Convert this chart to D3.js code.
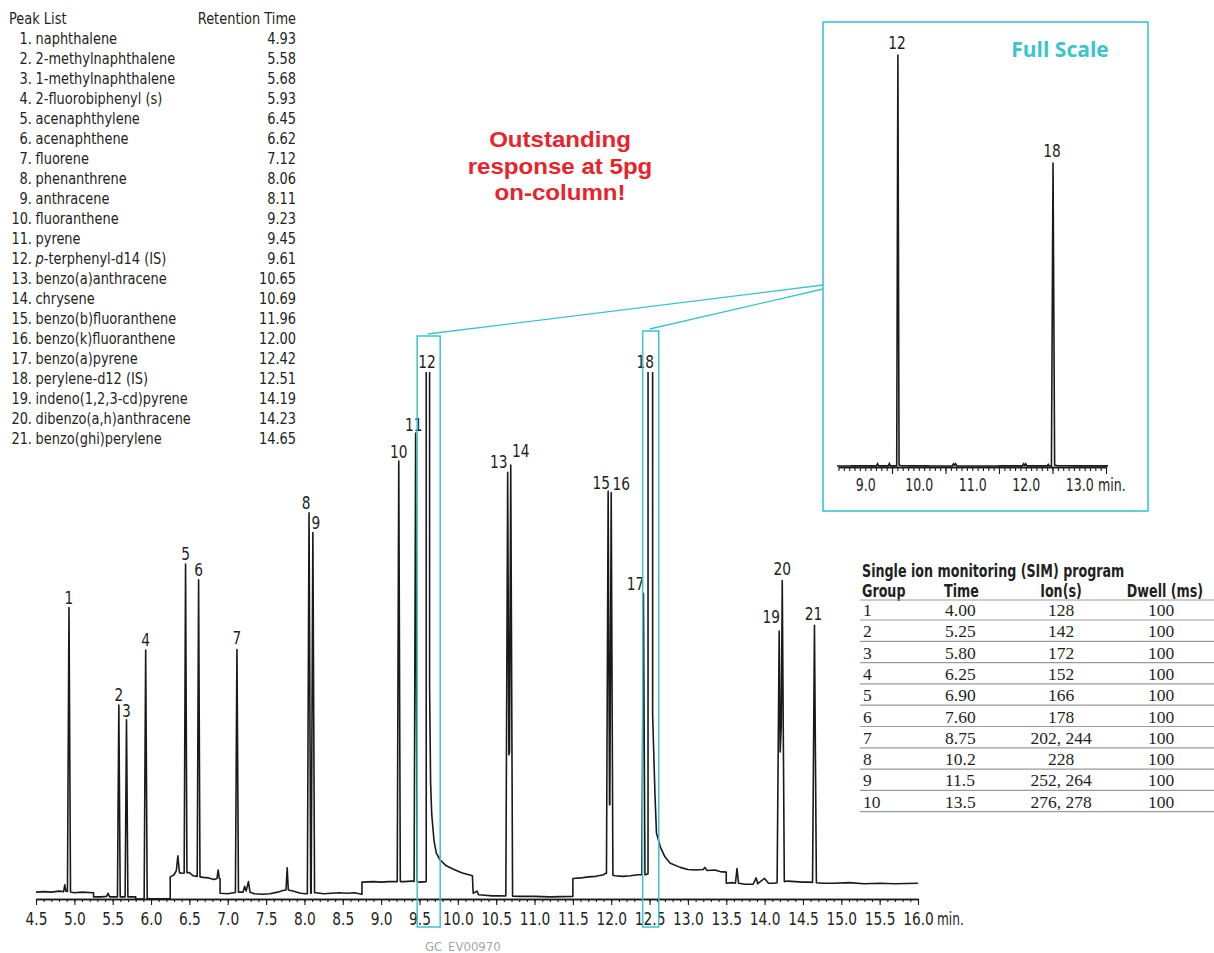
<!DOCTYPE html>
<html>
<head>
<meta charset="utf-8">
<script src="https://cdn.jsdelivr.net/npm/d3@7"></script>
<style>
  body { margin: 0; background: #fff; }
  text { font-family: 'Liberation Sans Narrow', 'Arial Narrow', 'DejaVu Sans Condensed', sans-serif; fill: #231f20; }
</style>
</head>
<body>
<div id="chart"></div>
<script>
// peak list (name / retention time in min)
const compounds = [
  "naphthalene", "2-methylnaphthalene", "1-methylnaphthalene", "2-fluorobiphenyl (s)",
  "acenaphthylene", "acenaphthene", "fluorene", "phenanthrene", "anthracene",
  "fluoranthene", "pyrene", "p-terphenyl-d14 (IS)", "benzo(a)anthracene", "chrysene",
  "benzo(b)fluoranthene", "benzo(k)fluoranthene", "benzo(a)pyrene", "perylene-d12 (IS)",
  "indeno(1,2,3-cd)pyrene", "dibenzo(a,h)anthracene", "benzo(ghi)perylene"
];
const retentionTimes = [4.93, 5.58, 5.68, 5.93, 6.45, 6.62, 7.12, 8.06, 8.11, 9.23, 9.45,
  9.61, 10.65, 10.69, 11.96, 12.00, 12.42, 12.51, 14.19, 14.23, 14.65];

// peak heights above baseline (abundance units, 100 = top of the zoomed view) and half widths (min)
const peakHeights = [53.9, 36.4, 33.6, 47.2, 58.6, 56.3, 46.1, 72.2, 68.4, 79.8, 85.1,
  15000, 80.4, 81.8, 72.6, 72.5, 53.4, 11060, 47.7, 57.2, 48.8];
const peakHalfWidths = [0.02, 0.018, 0.018, 0.02, 0.018, 0.018, 0.02, 0.022, 0.022, 0.02, 0.02,
  0.022, 0.024, 0.024, 0.022, 0.022, 0.02, 0.03, 0.027, 0.027, 0.025];

// baseline of the SIM trace [time, abundance], steps at group switches, tails of 12 and 18
const baseline = [
  [4.50, 1.3], [4.60, 1.4], [4.70, 1.3], [4.80, 1.5], [4.86, 1.4], [4.875, 2.7], [4.89, 1.5], [5.00, 1.2], [5.10, 1.3], [5.25, 1.2],
  [5.25, 0.4], [5.35, 0.4], [5.42, 0.5], [5.44, 1.1], [5.46, 0.4], [5.55, 0.4], [5.70, 0.4], [5.80, 0.4],
  [5.80, 0.0], [6.00, 0.05], [6.25, 0.05],
  [6.25, 4.2], [6.30, 4.6], [6.33, 5.4], [6.35, 8.2], [6.37, 5.0], [6.40, 4.9], [6.50, 5.0], [6.55, 4.4], [6.60, 4.3],
  [6.68, 4.1], [6.75, 4.0], [6.82, 3.7], [6.86, 3.9], [6.875, 5.5], [6.89, 3.9], [6.90, 3.8],
  [6.90, 1.1], [7.00, 1.0], [7.08, 1.2], [7.16, 1.3], [7.20, 1.3], [7.22, 2.4], [7.24, 1.5], [7.27, 3.3], [7.29, 1.3],
  [7.35, 1.0], [7.45, 0.9], [7.55, 1.0], [7.65, 1.3], [7.72, 1.6], [7.76, 1.7], [7.775, 5.9], [7.79, 1.7], [7.85, 1.5],
  [7.95, 1.1], [8.02, 1.0], [8.15, 1.2], [8.25, 1.0], [8.35, 1.1], [8.45, 1.2], [8.55, 1.1], [8.65, 1.2], [8.75, 0.9],
  [8.75, 3.2], [8.90, 3.3], [9.00, 3.2], [9.10, 3.3], [9.20, 3.3], [9.30, 3.3], [9.40, 3.4], [9.50, 3.2], [9.59, 3.3],
  [9.632, 40], [9.645, 22], [9.66, 16], [9.69, 11], [9.72, 8.7], [9.77, 7.4], [9.85, 6.3], [9.95, 5.6], [10.05, 5.0], [10.19, 4.4],
  [10.20, 1.1], [10.25, 1.5], [10.27, 0.8], [10.35, 0.7], [10.45, 0.6], [10.55, 0.6], [10.80, 0.5], [11.00, 0.5], [11.20, 0.4], [11.50, 0.5],
  [11.50, 3.9], [11.60, 4.0], [11.70, 4.2], [11.80, 4.3], [11.90, 4.6], [11.93, 4.9], [12.05, 4.4], [12.15, 4.3], [12.25, 4.4],
  [12.35, 4.6], [12.45, 4.6], [12.482, 4.8],
  [12.54, 35], [12.57, 20], [12.59, 12.5], [12.64, 9.9], [12.70, 8.0], [12.77, 6.8], [12.90, 6.0], [13.00, 5.6], [13.10, 5.5],
  [13.20, 5.6], [13.22, 6.0], [13.25, 5.4], [13.35, 5.5], [13.42, 5.2], [13.50, 5.1],
  [13.50, 3.0], [13.58, 3.1], [13.62, 3.0], [13.64, 5.8], [13.66, 3.0], [13.75, 2.8], [13.85, 2.8], [13.89, 4.0], [13.91, 2.9],
  [13.96, 3.5], [14.00, 3.9], [14.05, 3.0], [14.12, 3.0],
  [14.30, 3.4], [14.40, 3.3], [14.50, 3.2], [14.58, 3.2], [14.75, 3.0], [14.90, 3.0], [15.10, 3.1], [15.30, 2.9], [15.50, 3.0],
  [15.70, 2.9], [16.00, 3.0]
];

// SIM program table
const simGroup = ["1", "2", "3", "4", "5", "6", "7", "8", "9", "10"];
const simTime = ["4.00", "5.25", "5.80", "6.25", "6.90", "7.60", "8.75", "10.2", "11.5", "13.5"];
const simIons = ["128", "142", "172", "152", "166", "178", "202, 244", "228", "252, 264", "276, 278"];
const simDwell = ["100", "100", "100", "100", "100", "100", "100", "100", "100", "100"];

// axis ticks
const mainTicks = d3.range(45, 161, 5).map(d => d / 10);
const mainMinorTicks = d3.range(45, 161).map(d => d / 10);
const insetLabels = [9, 10, 11, 12, 13];
const insetMajorTicks = [9.5, 10.5, 11.5, 12.5, 13.5];
const insetMinorTicks = d3.range(85, 136).map(d => d / 10);

// zoomed windows around peaks 12 and 18
const zoomWindows = [[9.47, 9.77], [12.41, 12.62]];

// label nudges (dx, gap above apex)
const labelDx = [0, 0, 0, 0, 0, 0, 0, -3, 3, 0, -2, -1, -9, 10, -7, 10, -8, -5, -8, 0, -1];
const labelGap = [4, 4, 3, 4, 4, 4, 5, 4, 4, 3, 2, 4, 4, 8, 2, 3, 3, 4, 8, 5, 5];

const width = 1214, height = 953;
const cyan = "#3cc4cc";
const narrow = 0.85; // horizontal squeeze to mimic the condensed face

let svg = d3.select("#chart").append("svg")
  .attr("width", width)
  .attr("height", height);

// scales
let x = d3.scaleLinear().domain([4.5, 16.0]).range([36, 918]);
let y = d3.scaleLinear().domain([0, 100]).range([899, 372]);
let xi = d3.scaleLinear().domain([8.5, 13.5]).range([838.5, 1106]);
let yi = d3.scaleLinear().domain([0, 15000]).range([466, 55]);

// build trace: baseline plus triangular peaks, sampled at every vertex
const baseAt = t => {
  const i = d3.bisector(d => d[0]).right(baseline, t);
  if (i <= 0) return baseline[0][1];
  if (i >= baseline.length) return baseline[baseline.length - 1][1];
  const a = baseline[i - 1], b = baseline[i];
  return a[1] + (b[1] - a[1]) * (t - a[0]) / (b[0] - a[0]);
};
const peakAt = t => d3.sum(retentionTimes, (rt, i) =>
  Math.max(0, peakHeights[i] * (1 - Math.abs(t - rt) / peakHalfWidths[i])));

let trace = baseline.map(d => [d[0], d[1] + peakAt(d[0])]);
retentionTimes.forEach((rt, i) => {
  [rt - peakHalfWidths[i], rt, rt + peakHalfWidths[i]].forEach(t => trace.push([t, baseAt(t) + peakAt(t)]));
});
trace.sort((a, b) => a[0] - b[0]);

// small helper: squeezed text anchored at (px, py)
function label(parent, px, py, str, size, anchor, sx) {
  return parent.append("text")
    .attr("transform", `translate(${px},${py}) scale(${sx || narrow},1)`)
    .attr("text-anchor", anchor || "middle")
    .attr("font-size", size)
    .text(str);
}

let defs = svg.append("defs");
defs.append("clipPath").attr("id", "mainClip")
  .append("rect").attr("x", 30).attr("y", 372).attr("width", 900).attr("height", 535);
defs.append("clipPath").attr("id", "insetClip")
  .append("rect").attr("x", 837).attr("y", 30).attr("width", 271).attr("height", 440);

// main trace
svg.append("path")
  .datum(trace)
  .attr("clip-path", "url(#mainClip)")
  .attr("fill", "none")
  .attr("stroke", "#1a1a1a")
  .attr("stroke-width", 1.6)
  .attr("stroke-linejoin", "round")
  .attr("d", d3.line().x(d => x(d[0])).y(d => y(d[1])));

// main axis
let minorAxis = svg.append("g").attr("transform", "translate(0,899)")
  .call(d3.axisBottom(x).tickValues(mainMinorTicks).tickSize(3).tickSizeOuter(0).tickFormat(""));
let majorAxis = svg.append("g").attr("transform", "translate(0,899)")
  .call(d3.axisBottom(x).tickValues(mainTicks).tickSize(6).tickSizeOuter(0).tickPadding(7).tickFormat(d3.format(".1f")));
[minorAxis, majorAxis].forEach(g => {
  g.select(".domain").attr("stroke", "#1a1a1a").attr("stroke-width", 1.5);
  g.selectAll(".tick line").attr("stroke", "#1a1a1a").attr("stroke-width", 1.1);
});
majorAxis.selectAll(".tick text")
  .attr("font-size", 18).attr("font-family", null).attr("fill", "#231f20")
  .attr("transform", `scale(${narrow},1)`);
label(svg, 937, 925, "min.", 18, "start", 0.75);

// peak labels
retentionTimes.forEach((rt, i) => {
  const apex = Math.max(y(baseAt(rt) + peakAt(rt)), 372);
  label(svg, x(rt) + labelDx[i], apex - labelGap[i], i + 1, 18);
});

// zoom windows and connectors
const boxTops = [336, 331];
const connectEnds = [285, 289];
zoomWindows.forEach((w, i) => {
  svg.append("rect")
    .attr("x", x(w[0])).attr("y", boxTops[i])
    .attr("width", x(w[1]) - x(w[0])).attr("height", 927 - boxTops[i])
    .attr("fill", "none").attr("stroke", cyan).attr("stroke-width", 1.5);
  svg.append("line")
    .attr("x1", (x(w[0]) + x(w[1])) / 2 - 1).attr("y1", boxTops[i] - 2)
    .attr("x2", 823).attr("y2", connectEnds[i])
    .attr("stroke", cyan).attr("stroke-width", 1.3);
});

// inset (full scale)
svg.append("rect").attr("x", 823).attr("y", 22).attr("width", 325).attr("height", 489)
  .attr("fill", "#fff").attr("stroke", cyan).attr("stroke-width", 1.6);
svg.append("path")
  .datum(trace)
  .attr("clip-path", "url(#insetClip)")
  .attr("fill", "none")
  .attr("stroke", "#1a1a1a")
  .attr("stroke-width", 1.6)
  .attr("d", d3.line().x(d => xi(d[0])).y(d => yi(d[1])));

let insetMinor = svg.append("g").attr("transform", "translate(0,467)")
  .call(d3.axisBottom(xi).tickValues(insetMinorTicks).tickSize(4).tickSizeOuter(0).tickFormat(""));
let insetMajor = svg.append("g").attr("transform", "translate(0,467)")
  .call(d3.axisBottom(xi).tickValues(insetMajorTicks).tickSize(7).tickSizeOuter(0).tickFormat(""));
let insetText = svg.append("g").attr("transform", "translate(0,467)")
  .call(d3.axisBottom(xi).tickValues(insetLabels).tickSize(0).tickSizeOuter(0).tickPadding(12).tickFormat(d3.format(".1f")));
[insetMinor, insetMajor].forEach(g => {
  g.select(".domain").attr("stroke", "#1a1a1a").attr("stroke-width", 1.5);
  g.selectAll(".tick line").attr("stroke", "#1a1a1a").attr("stroke-width", 1.1);
});
insetText.select(".domain").remove();
insetText.selectAll(".tick text")
  .attr("font-size", 17).attr("font-family", null).attr("fill", "#231f20")
  .attr("transform", "scale(0.82,1)");
label(svg, 1098, 491, "min.", 17, "start", 0.82);

[11, 17].forEach(i => {
  label(svg, xi(retentionTimes[i]) - 1, yi(peakHeights[i] + baseAt(retentionTimes[i])) - 5, i + 1, 18);
});
svg.append("text").attr("x", 1060).attr("y", 57).attr("text-anchor", "middle")
  .attr("font-size", 21).attr("font-weight", "bold")
  .style("font-family", "'Open Sans', 'Liberation Sans', sans-serif").style("fill", cyan)
  .text("Full Scale");

// callout, three lines, widened Liberation Sans Bold so the line boxes stay apart
const callout = ["Outstanding", "response at 5pg", "on-column!"];
callout.forEach((line, i) => {
  svg.append("text")
    .attr("transform", `translate(560,${147 + 26.5 * i}) scale(1.07,1)`)
    .attr("text-anchor", "middle")
    .attr("font-size", 22.5).attr("font-weight", "bold")
    .style("font-family", "'Liberation Sans', Arial, sans-serif").style("fill", "#e8232a")
    .text(line);
});

// peak list (squeezed group, x positions divided by the squeeze)
const sList = 0.93;
let list = svg.append("g").attr("font-size", 15.5).attr("transform", `scale(${sList},1)`);
list.append("text").attr("x", 9 / sList).attr("y", 24).text("Peak List");
list.append("text").attr("x", 296 / sList).attr("y", 24).attr("text-anchor", "end").text("Retention Time");
compounds.forEach((name, i) => {
  const yy = 44 + 20 * i;
  list.append("text").attr("x", 32 / sList).attr("y", yy).attr("text-anchor", "end").text(`${i + 1}.`);
  const t = list.append("text").attr("x", 35.5 / sList).attr("y", yy);
  if (name.startsWith("p-")) {
    t.append("tspan").attr("font-style", "italic").text("p");
    t.append("tspan").text(name.slice(1));
  } else {
    t.text(name);
  }
  list.append("text").attr("x", 296 / sList).attr("y", yy).attr("text-anchor", "end").text(retentionTimes[i].toFixed(2));
});

// SIM table
const sHead = 0.83;
let head = svg.append("g").attr("transform", `scale(${sHead},1)`).attr("font-size", 17).attr("font-weight", "bold");
head.append("text").attr("x", 862 / sHead).attr("y", 577).text("Single ion monitoring (SIM) program");
const headers = [["Group", 862, "start"], ["Time", 944, "start"], ["Ion(s)", 1061, "middle"], ["Dwell (ms)", 1165, "middle"]];
headers.forEach(h => {
  head.append("text").attr("x", h[1] / sHead).attr("y", 597).attr("text-anchor", h[2]).text(h[0]);
});
let table = svg.append("g");
table.append("line").attr("x1", 860).attr("x2", 1214).attr("y1", 600).attr("y2", 600)
  .attr("stroke", "#9a9a9a").attr("stroke-width", 1.2);
simGroup.forEach((g, i) => {
  const yy = 616 + 21.3 * i;
  const cells = [[g, 863, "start"], [simTime[i], 945, "start"], [simIons[i], 1061, "middle"], [simDwell[i], 1161, "middle"]];
  cells.forEach(c => {
    table.append("text").attr("x", c[1]).attr("y", yy).attr("text-anchor", c[2])
      .attr("font-size", 17.5).style("font-family", "'Liberation Serif', serif").text(c[0]);
  });
  table.append("line").attr("x1", 860).attr("x2", 1214).attr("y1", yy + 4).attr("y2", yy + 4)
    .attr("stroke", "#9a9a9a").attr("stroke-width", 1.2);
});

// figure code
svg.append("text").attr("x", 425).attr("y", 951).attr("font-size", 13)
  .style("fill", "#a6a6a6").text("GC_EV00970");
</script>
</body>
</html>
